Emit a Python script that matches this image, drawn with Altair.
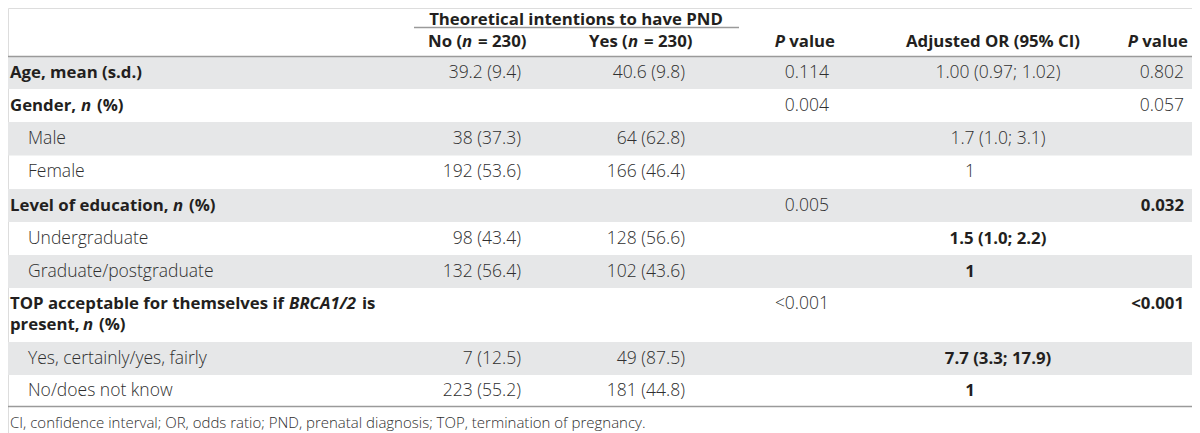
import altair as alt
import pandas as pd

# ---------------- data ----------------
labels = [
    "Age, mean (s.d.)",
    "Gender, _n_ (%)",
    "Male",
    "Female",
    "Level of education, _n_ (%)",
    "Undergraduate",
    "Graduate/postgraduate",
    "TOP acceptable for themselves if _BRCA1/2_ is\npresent, _n_ (%)",
    "Yes, certainly/yes, fairly",
    "No/does not know",
]
label_is_heading = [True, True, False, False, True, False, False, True, False, False]
no_vals = ["39.2 (9.4)", "", "38 (37.3)", "192 (53.6)", "", "98 (43.4)", "132 (56.4)", "", "7 (12.5)", "223 (55.2)"]
yes_vals = ["40.6 (9.8)", "", "64 (62.8)", "166 (46.4)", "", "128 (56.6)", "102 (43.6)", "", "49 (87.5)", "181 (44.8)"]
p_vals = ["0.114", "0.004", "", "", "0.005", "", "", "<0.001", "", ""]
or_vals = ["1.00 (0.97; 1.02)", "", "1.7 (1.0; 3.1)", "1", "", "1.5 (1.0; 2.2)", "1", "", "7.7 (3.3; 17.9)", "1"]
or_bold = [False, False, False, False, False, True, True, False, True, True]
p2_vals = ["0.802", "0.057", "", "", "0.032", "", "", "<0.001", "", ""]
p2_bold = [False, False, False, False, True, False, False, True, False, False]

spanner = "Theoretical intentions to have PND"
col_headers = ["No (_n_ = 230)", "Yes (_n_ = 230)", "_P_ value", "Adjusted OR (95% CI)", "_P_ value"]
footnote = "CI, confidence interval; OR, odds ratio; PND, prenatal diagnosis; TOP, termination of pregnancy."

# ---------------- layout ----------------
W, H = 1184, 425
FS_B = 16.8
FS_L = 17.5
BOLD_C = "#231f20"
LIGHT_C = "#2f2f2f"
BAND = "#e6e7e8"
LINE = "#9a9a9a"
FONT = "Open Sans"

row_y = [72.5, 105.5, 139, 172, 205.5, 239, 272, 303.5, 358.5, 391]
line_gap = 21
band_top = [57, 89, 122, 155.5, 189, 222, 255, 288, 342, 375]
band_bot = band_top[1:] + [406.5]

# segment anchors: (x, align) for each piece of a rich text
seg_x = {
    1: [[(10, "left"), (81, "left"), (97, "left")]],
    4: [[(10, "left"), (173, "left"), (189, "left")]],
    7: [[(10, "left"), (289, "left"), (362, "left")],
        [(10, "left"), (83, "left"), (99, "left")]],
}
hdr_seg_x = [
    [(428, "left"), (462, "left"), (478, "left")],
    [(589, "left"), (628, "left"), (644, "left")],
    [(785, "right"), (835, "right")],
    None,
    [(1138, "right"), (1188, "right")],
]
hdr_y = 41.5


def split_rich(s):
    parts = s.split("_")
    out = []
    for i, p in enumerate(parts):
        t = p.strip()
        if t:
            out.append((t, i % 2 == 1))
    return out


texts = []


def add(text, x, y, weight="bold", style="normal", align="left", size=FS_B, color=BOLD_C):
    texts.append(dict(text=text, x=x, y=y, weight=weight, style=style,
                      align=align, size=size, color=color))


def light(text, x, y, align):
    add(text, x, y, weight=300, align=align, size=FS_L, color=LIGHT_C)


# spanner + column headers
add(spanner, 576, 19.5, align="center")
for h, anchors in zip(col_headers, hdr_seg_x):
    if anchors is None:
        add(h, 993, hdr_y, align="center")
        continue
    for (t, it), (x, al) in zip(split_rich(h), anchors):
        add(t, x, hdr_y, style="italic" if it else "normal", align=al)

# body
for i, lab in enumerate(labels):
    y = row_y[i]
    if label_is_heading[i]:
        for li, line in enumerate(lab.split("\n")):
            segs = split_rich(line)
            ly = y + li * line_gap
            if i in seg_x:
                for (t, it), (x, al) in zip(segs, seg_x[i][li]):
                    add(t, x, ly, style="italic" if it else "normal", align=al)
            else:
                add(segs[0][0], 10, ly)
    else:
        light(lab, 28, y, "left")
    if no_vals[i]:
        light(no_vals[i], 521, y, "right")
    if yes_vals[i]:
        light(yes_vals[i], 685, y, "right")
    if p_vals[i]:
        light(p_vals[i], 829, y, "right")
    if or_vals[i]:
        xo = 970 if or_vals[i] == "1" else 998
        if or_bold[i]:
            add(or_vals[i], xo, y, align="center")
        else:
            light(or_vals[i], xo, y, "center")
    if p2_vals[i]:
        if p2_bold[i]:
            add(p2_vals[i], 1184, y, align="right")
        else:
            light(p2_vals[i], 1184, y, "right")

add(footnote, 10, 423, weight=300, size=15, color=LIGHT_C)

tdf = pd.DataFrame(texts)

xs = alt.Scale(domain=[8, 8 + W], zero=False, nice=False)
ys = alt.Scale(domain=[8, 8 + H], zero=False, nice=False, reverse=True)


def X(f):
    return alt.X(f, type="quantitative", scale=xs, axis=None)


def Y(f):
    return alt.Y(f, type="quantitative", scale=ys, axis=None)


bands = pd.DataFrame({
    "y": [band_top[i] for i in range(len(labels)) if i % 2 == 0],
    "y2": [band_bot[i] for i in range(len(labels)) if i % 2 == 0],
})
bands["x"] = 0
bands["x2"] = 1200

band_layer = alt.Chart(bands).mark_rect(color=BAND).encode(
    x=X("x"), x2="x2", y=Y("y"), y2="y2")

rules = pd.DataFrame({
    "x": [414, 0, 0],
    "x2": [739, 1200, 1200],
    "y": [27.5, 56.5, 406.5],
})
rule_layer = alt.Chart(rules).mark_rule(color=LINE, strokeWidth=1.5).encode(
    x=X("x"), x2="x2", y=Y("y"))

layers = [band_layer, rule_layer]
for (w, st, al, sz, col), g in tdf.groupby(["weight", "style", "align", "size", "color"], sort=False):
    layers.append(
        alt.Chart(g.reset_index(drop=True)).mark_text(
            font=FONT, fontSize=float(sz), fontWeight=w, fontStyle=st,
            align=al, baseline="middle", color=col,
        ).encode(x=X("x"), y=Y("y"), text="text:N")
    )

chart = alt.layer(*layers).properties(
    width=W, height=H, padding=0,
    autosize=alt.AutoSizeParams(type="none"),
).configure_view(stroke=None).configure(background="white")

chart.save("out.html", embed_options={"renderer": "svg", "actions": False})
